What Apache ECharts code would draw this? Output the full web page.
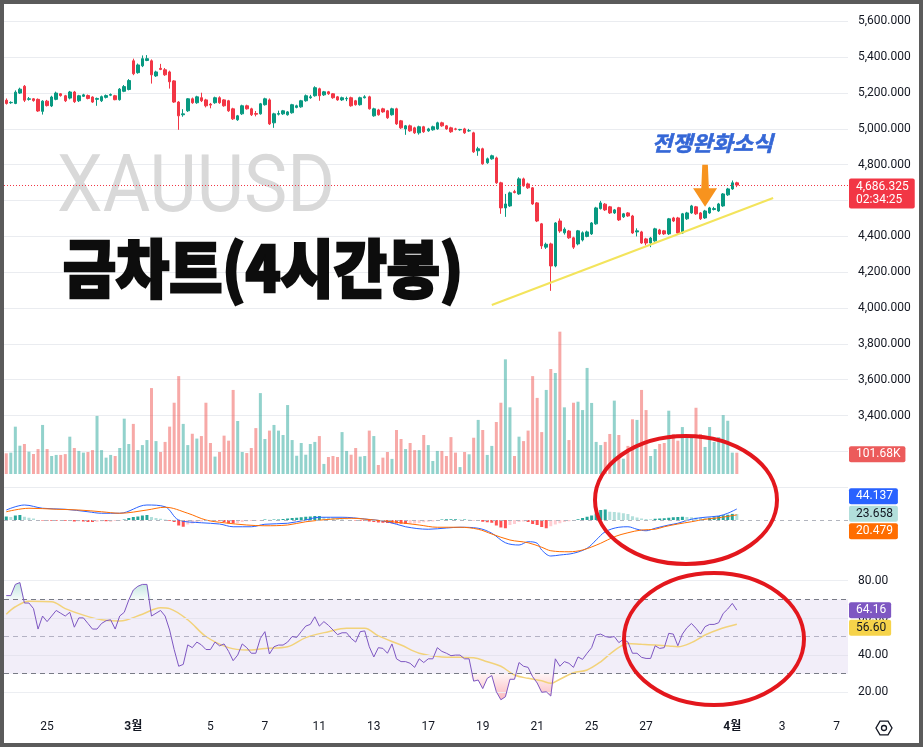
<!DOCTYPE html>
<html><head><meta charset="utf-8">
<script src="https://cdn.jsdelivr.net/npm/echarts@6/dist/echarts.min.js"></script>
<style>html,body{margin:0;padding:0;background:#fff}#c{width:923px;height:748px}</style>
</head><body><div id="c"></div>
<script>
// ---------- DATA ----------
const open = [5160,5146,5142,5200,5238,5165,5168,5165,5098,5155,
 5128,5165,5196,5185,5172,5206,5157,5182,5186,5178,
 5165,5157,5176,5188,5185,5163,5210,5220,5380,5314,
 5352,5382,5380,5296,5338,5330,5318,5268,5150,5079,
 5101,5168,5146,5174,5162,5138,5146,5174,5162,5157,
 5112,5051,5084,5129,5112,5086,5084,5135,5162,5034,
 5082,5084,5079,5090,5120,5123,5157,5174,5185,5224,
 5190,5207,5196,5179,5162,5168,5174,5157,5135,5174,
 5179,5073,5106,5112,5101,5079,5112,5045,5000,5017,
 5006,4978,5012,4989,4995,5000,5034,5017,5006,5000,
 4995,5000,4989,4978,4878,4889,4811,4833,4838,4699,
 4559,4570,4650,4637,4721,4693,4671,4587,4470,4340,
 4358,4235,4486,4420,4430,4392,4358,4380,4400,4414,
 4470,4555,4580,4565,4531,4560,4509,4531,4514,4425,
 4425,4386,4363,4375,4436,4431,4414,4503,4503,4419,
 4498,4531,4565,4531,4503,4531,4550,4542,4570,4632,
 4665,4699];
const close = [5142,5148,5205,5222,5160,5168,5158,5100,5155,5130,
 5178,5200,5186,5157,5206,5152,5185,5190,5170,5150,
 5170,5180,5186,5192,5163,5222,5236,5270,5308,5357,
 5392,5392,5302,5318,5332,5302,5263,5150,5073,5084,
 5168,5146,5179,5157,5129,5133,5174,5146,5129,5101,
 5056,5073,5129,5112,5079,5082,5140,5168,5028,5084,
 5086,5101,5095,5135,5129,5157,5185,5179,5230,5185,
 5207,5196,5174,5162,5174,5170,5129,5135,5174,5179,
 5112,5112,5079,5095,5062,5112,5028,5006,5017,4989,
 4978,5012,4984,5000,5012,5034,5017,5000,4984,4998,
 4997,4978,4990,4872,4889,4805,4833,4850,4699,4559,
 4581,4643,4645,4721,4682,4671,4581,4486,4347,4356,
 4235,4475,4430,4440,4392,4340,4431,4420,4425,4475,
 4559,4587,4548,4531,4548,4492,4526,4514,4419,4431,
 4363,4363,4391,4442,4414,4414,4498,4486,4419,4526,
 4531,4570,4526,4498,4542,4559,4555,4581,4637,4665,
 4699,4686.325];
const high = [5170,5154,5215,5230,5245,5178,5172,5170,5160,5162,
 5185,5208,5200,5190,5212,5212,5190,5196,5192,5182,
 5175,5186,5192,5198,5190,5228,5245,5278,5392,5365,
 5410,5412,5388,5325,5363,5340,5325,5272,5155,5110,
 5172,5175,5185,5202,5168,5145,5180,5182,5166,5162,
 5118,5078,5135,5135,5118,5100,5145,5174,5170,5090,
 5102,5106,5100,5140,5135,5162,5192,5190,5238,5230,
 5212,5212,5200,5184,5180,5180,5180,5162,5180,5188,
 5185,5118,5112,5118,5106,5118,5118,5050,5022,5024,
 5012,5018,5017,5006,5018,5040,5040,5022,5012,5006,
 5000,5006,5000,4984,4900,4895,4840,4856,4845,4705,
 4637,4650,4660,4730,4728,4700,4676,4592,4475,4365,
 4365,4480,4500,4450,4436,4398,4436,4428,4432,4480,
 4565,4598,4586,4570,4553,4565,4531,4536,4520,4445,
 4431,4392,4397,4448,4442,4436,4503,4509,4509,4531,
 4537,4576,4570,4536,4548,4565,4565,4587,4642,4671,
 4712,4705];
const low = [5136,5140,5138,5195,5150,5158,5152,5095,5080,5125,
 5122,5160,5180,5150,5165,5145,5150,5178,5165,5145,
 5129,5150,5170,5183,5160,5158,5205,5215,5300,5308,
 5345,5378,5253,5290,5328,5296,5225,5145,4995,5068,
 5095,5140,5140,5150,5120,5115,5140,5140,5124,5095,
 5050,5045,5078,5108,5072,5070,5080,5130,5022,5006,
 5075,5078,5074,5085,5115,5118,5152,5168,5180,5157,
 5184,5190,5168,5157,5156,5155,5124,5130,5130,5170,
 5108,5068,5074,5090,5056,5074,5022,5000,4967,4984,
 4972,4968,4978,4984,4990,4995,5012,4995,4978,4992,
 4990,4972,4984,4866,4850,4800,4805,4828,4693,4526,
 4509,4565,4640,4632,4677,4665,4576,4480,4330,4330,
 4096,4228,4420,4410,4386,4330,4350,4372,4395,4408,
 4465,4550,4542,4525,4525,4486,4503,4509,4414,4400,
 4358,4350,4340,4370,4408,4408,4408,4480,4414,4414,
 4492,4526,4520,4492,4498,4526,4545,4537,4565,4626,
 4660,4675];
// volume in K
const volume = [98.6,101.8,225.8,135,143,106.5,95.4,119,234,119,
 86,91,91,95,178,124,110,102,105,114,
 277,114,78,91,86,124,264,143,239,114,
 138,162,410,157,105,153,226,340,467,239,
 138,192,169,181,340,148,83,105,183,159,
 401,253,105,100,124,219,386,167,207,234,
 207,186,329,162,87,148,92,143,153,181,
 48,81,86,81,200,110,92,124,83,86,
 207,181,43,78,105,72,210,167,119,148,
 114,114,186,138,62,110,110,86,176,102,
 33,105,94,173,258,210,91,134,248,340,
 547,318,86,178,157,207,467,363,200,401,
 501,482,679,318,162,340,345,305,506,339,
 153,138,153,191,350,186,73,134,261,258,
 401,305,86,119,143,148,302,191,159,224,
 178,175,316,191,129,224,153,176,281,254,
 102,101.68];
const macdHist = [14,12,18,20,13,9,6,-1,-2,-3,
 -3,-3,-2,-3,-4,-6,-5,-6,-8,-8,
 -7,-5,-5,-5,-4,-3,2,8,12,14,
 18,20,12,8,5,2,-3,-8,-22,-27,
 -18,-14,-10,-6,-4,-3,-2,-3,-8,-13,
 -13,-12,-8,-5,-4,-3,-2,2,1,2,
 2,4,6,8,9,11,13,14,16,16,
 12,10,8,6,3,1,0,-2,-3,-4,
 -6,-8,-10,-11,-12,-13,-14,-15,-16,-15,
 -14,-12,-9,-7,-6,-4,2,3,3,3,
 2,2,1,-1,-4,-7,-9,-11,-22,-30,
 -33,-20,-16,-8,-6,-8,-16,-20,-28,-33,
 -25,-18,-13,-8,-5,-2,3,8,13,18,
 26,40,42,33,32,30,27,24,15,10,
 6,4,3,5,6,7,9,11,12,13,
 12,11,10,9,8,9,11,16,19,21,
 24.5,23.658];
const macdLine = [[0,40],[4,60],[8,47],[13,43],[18,33],[21,27],[25,27],[31,60],[35,53],[38,0],[43,-11],[47,-16],[50,-27],[54,-27],[57,-17],[62,-13],[66,0],[69,11],[74,11],[79,4],[84,-7],[88,-27],[93,-37],[97,-32],[100,-29],[104,-33],[107,-53],[110,-91],[113,-100],[115,-87],[117,-93],[118,-120],[120,-144],[122,-140],[125,-133],[128,-113],[130,-80],[132,-47],[135,-29],[137,-27],[139,-37],[141,-43],[143,-33],[146,-20],[148,-13],[151,3],[154,11],[157,16],[159,27],[161,44.137]];
const macdSignal = [[0,33],[5,47],[11,43],[16,40],[21,33],[25,27],[31,40],[35,51],[40,27],[44,0],[48,-11],[53,-20],[57,-23],[62,-20],[66,-7],[72,4],[76,7],[81,0],[85,-7],[91,-20],[95,-29],[100,-29],[104,-37],[107,-56],[111,-80],[115,-91],[118,-109],[120,-123],[124,-127],[127,-120],[131,-93],[134,-67],[137,-51],[140,-40],[143,-37],[145,-27],[148,-16],[151,-7],[154,3],[157,9],[161,20.479]];
const rsi = [72,72,78,79,68,68,65,54,61,58,
 61,64,62.5,61,63,55,60,60,57,54,
 54,57,58.5,59,54,61,63,69.6,75,77,
 78,78,61,62.5,64,61,53.5,43,34,35,
 45.5,44,47,45.5,43,43,47,45,46,42,
 37,40,46,44,41,41,49,52.6,40.6,44.5,
 45.4,45.4,47,50,49.5,52.6,55.6,56.5,60.6,55.6,
 58,56,53.5,51,52,52,49,47,52.6,53,
 44.5,39,44,43.6,41,46,38,36.5,36.5,35.6,
 33.4,38,36,38,38,44,42,41,39.7,40,
 40,38,38,26,26.6,22,27.5,29,20.3,16,
 17.6,27,27,36,34,33.4,28.4,25,20,20.3,
 18,38,34,36.5,35.6,33.4,39,37.7,41,44,
 50.8,51.3,50,49.5,50,46.7,48.5,47,41,41,
 38.8,38.2,38.2,45,43.6,44,51.7,51.3,45,51.3,
 54.7,57,54.4,51.3,55.3,56.5,56.5,57.4,62.4,64.8,
 67.8,64.16];
const rsiMA = [[0,62],[2,66],[5,69],[10,68.7],[13,65],[17,61.5],[21,59],[25,58.3],[30,62],[34,65.5],[36,65],[40,59],[44,50],[49,44],[53,42.7],[57,43.6],[62,44.5],[66,49.4],[71,52.6],[75,54.4],[79,54.4],[82,50.3],[87,45.4],[91,41],[96,39],[100,38.8],[103,38.6],[106,36.4],[109,34],[112,29.3],[115,27.5],[118,26.2],[120,24.8],[122,27],[125,30.5],[128,32],[131,36.4],[134,42.4],[137,46.3],[140,45.8],[143,45.4],[146,44.9],[148,44.5],[151,46.7],[154,50.8],[157,53.8],[161,56.6]];
const xTickIndex = [9,28,45,57,69,81,93,105,117,129,141,160,171,183];
const xTickText = ['25','3월','5','7','11','13','17','19','21','25','27','4월','3','7'];
const countdown = '02:34:25';
const watermarkText = 'XAUUSD';
const titleText = '금차트(4시간봉)';
const noteText = '전쟁완화소식';
const trendLine = [[107, 4017], [169, 4614]];
const arrowTip = [154, 4566];

// ---------- CHART ----------
const N = 186;
const cats = Array.from({length: N}, (_, i) => String(i));
const tickMap = new Map(xTickIndex.map((k, i) => [k, xTickText[i]]));
const FONT = 'Roboto, "Noto Sans CJK KR", sans-serif';
const UP = '#089981', DOWN = '#f23645';
const fmt = (v, d) => v.toLocaleString('en-US', {minimumFractionDigits: d, maximumFractionDigits: d});

const candles = open.map((o, i) => [o, close[i], low[i], high[i]]);
const volData = volume.map((v, i) => ({value: v, itemStyle: {color: close[i] >= open[i] ? 'rgba(38,166,154,0.5)' : 'rgba(239,83,80,0.5)'}}));
const histData = macdHist.map((v, i) => {
  const p = i > 0 ? macdHist[i - 1] : 0;
  let c;
  if (v >= 0) c = v >= p ? '#26a69a' : '#b2dfdb';
  else c = v <= p ? '#ff5252' : '#ffcdd2';
  return {value: v, itemStyle: {color: c}};
});

const gridBase = {left: 4, right: 75};
const xa = (g, lab) => ({
  type: 'category', gridIndex: g, data: cats, boundaryGap: true,
  axisLine: {show: false}, axisTick: {show: false}, splitLine: {show: false},
  axisLabel: lab ? {
    show: true, interval: (i) => tickMap.has(i), margin: 10,
    formatter: (v, i) => { const t = tickMap.get(i) || ''; return t.includes('월') ? '{m|' + t + '}' : t; },
    color: '#131722', fontSize: 12, fontFamily: FONT,
    rich: {m: {fontWeight: 'bold', fontSize: 12, color: '#131722', fontFamily: FONT}}
  } : {show: false}
});

const chart = echarts.init(document.getElementById('c'), null, {renderer: 'canvas', width: 923, height: 748});
const option = {
  animation: false,
  backgroundColor: '#ffffff',
  textStyle: {fontFamily: FONT},
  grid: [
    Object.assign({top: 3.5, height: 483.7}, gridBase),
    Object.assign({top: 330, height: 144}, gridBase),
    Object.assign({top: 488, height: 80}, gridBase),
    Object.assign({top: 562.1, height: 148.8}, gridBase)
  ],
  xAxis: [xa(0, false), xa(1, false), xa(2, false), xa(3, true)],
  yAxis: [
    {type: 'value', gridIndex: 0, position: 'right', min: 3000, max: 5700, interval: 200,
      axisLine: {show: false}, axisTick: {show: false},
      splitLine: {show: true, lineStyle: {color: '#eaecf0', width: 1}},
      axisLabel: {margin: 10, fontSize: 12, color: '#131722', fontFamily: FONT,
        formatter: (v) => (v >= 3400 && v % 200 === 0) ? fmt(v, 3) : ''}},
    {type: 'value', gridIndex: 1, min: 0, max: 687, show: false},
    {type: 'value', gridIndex: 2, min: -192, max: 128, show: false},
    {type: 'value', gridIndex: 3, position: 'right', min: 10, max: 90, interval: 10,
      axisLine: {show: false}, axisTick: {show: false}, splitLine: {show: false},
      axisLabel: {margin: 10, fontSize: 12, color: '#131722', fontFamily: FONT,
        formatter: (v) => (v % 20 === 0 && v >= 20 && v <= 80) ? v.toFixed(2) : ''}}
  ],
  series: [
    {type: 'candlestick', xAxisIndex: 0, yAxisIndex: 0, data: candles, barWidth: 3,
      itemStyle: {color: UP, color0: DOWN, borderColor: UP, borderColor0: DOWN, borderWidth: 1},
      markLine: {symbol: ['none', 'none'], silent: true, label: {show: false},
        lineStyle: {color: DOWN, type: [1, 2], width: 1},
        data: [{yAxis: close[close.length - 1]}]}},
    {type: 'bar', xAxisIndex: 1, yAxisIndex: 1, data: volData, barWidth: 3},
    {type: 'bar', xAxisIndex: 2, yAxisIndex: 2, data: histData, barWidth: 3,
      markLine: {symbol: ['none', 'none'], silent: true, label: {show: false},
        lineStyle: {color: '#b2b5be', type: [4, 4], width: 1}, data: [{yAxis: 0}]}},
    {type: 'line', xAxisIndex: 2, yAxisIndex: 2, data: macdLine, symbol: 'none', smooth: 0.35,
      lineStyle: {color: '#2962ff', width: 1}, z: 4},
    {type: 'line', xAxisIndex: 2, yAxisIndex: 2, data: macdSignal, symbol: 'none', smooth: 0.35,
      lineStyle: {color: '#ff6d00', width: 1}, z: 4},
    // RSI fills (display helpers from rsi values)
    {type: 'line', xAxisIndex: 3, yAxisIndex: 3, stack: 'lo', symbol: 'none', lineStyle: {opacity: 0},
      data: rsi.map(v => Math.min(v, 30))},
    {type: 'line', xAxisIndex: 3, yAxisIndex: 3, stack: 'lo', symbol: 'none', lineStyle: {opacity: 0},
      areaStyle: {color: new echarts.graphic.LinearGradient(0, 0, 0, 1, [{offset: 0, color: 'rgba(242,54,69,0.05)'}, {offset: 1, color: 'rgba(242,54,69,0.35)'}]), opacity: 1},
      data: rsi.map(v => 30 - Math.min(v, 30))},
    {type: 'line', xAxisIndex: 3, yAxisIndex: 3, stack: 'hi', symbol: 'none', lineStyle: {opacity: 0},
      data: rsi.map(() => 70)},
    {type: 'line', xAxisIndex: 3, yAxisIndex: 3, stack: 'hi', symbol: 'none', lineStyle: {opacity: 0},
      areaStyle: {color: new echarts.graphic.LinearGradient(0, 0, 0, 1, [{offset: 0, color: 'rgba(8,153,129,0.25)'}, {offset: 1, color: 'rgba(8,153,129,0.04)'}]), opacity: 1},
      data: rsi.map(v => Math.max(v, 70) - 70)},
    {type: 'line', xAxisIndex: 3, yAxisIndex: 3, data: rsi, symbol: 'none',
      lineStyle: {color: '#7e57c2', width: 1}, z: 5,
      markArea: {silent: true, itemStyle: {color: 'rgba(126,87,194,0.1)'}, data: [[{yAxis: 30}, {yAxis: 70}]]},
      markLine: {symbol: ['none', 'none'], silent: true, label: {show: false},
        data: [
          {yAxis: 20, lineStyle: {color: '#eceef2', type: 'solid', width: 1}},
          {yAxis: 40, lineStyle: {color: '#e6e4ef', type: 'solid', width: 1}},
          {yAxis: 60, lineStyle: {color: '#e6e4ef', type: 'solid', width: 1}},
          {yAxis: 80, lineStyle: {color: '#eceef2', type: 'solid', width: 1}},
          {yAxis: 30, lineStyle: {color: '#787b86', type: [5, 4], width: 1}},
          {yAxis: 70, lineStyle: {color: '#787b86', type: [5, 4], width: 1}},
          {yAxis: 50, lineStyle: {color: '#b4b2c4', type: [5, 4], width: 1}}
        ]}},
    {type: 'line', xAxisIndex: 3, yAxisIndex: 3, data: rsiMA, symbol: 'none', smooth: 0.35,
      lineStyle: {color: '#f2d27a', width: 1.5}, z: 4}
  ]
};
chart.setOption(option);

// ---------- ANNOTATIONS / TAGS ----------
const P = (g, x, y) => chart.convertToPixel({gridIndex: g}, [x, y]);
const L = close.length - 1;
const ctx = document.createElement('canvas').getContext('2d');
const measure = (font, t) => { ctx.font = font; return ctx.measureText(t).width; };

const tagFont = '12px ' + FONT;
function tag(yCenter, text, bg, fg) {
  return {type: 'text', x: 849, y: yCenter - 8, z: 150,
    style: {text, font: tagFont, fill: fg, backgroundColor: bg, padding: [2, 5, 2, 7], lineHeight: 12,
      verticalAlign: 'top', align: 'left', borderRadius: 2}};
}
function spread(ys, h) {
  const idx = ys.map((y, i) => i).sort((a, b) => ys[a] - ys[b]);
  const out = ys.slice();
  for (let k = 1; k < idx.length; k++) {
    const a = idx[k - 1], b = idx[k];
    if (out[b] < out[a] + h) out[b] = out[a] + h;
  }
  return out;
}
const g = [];
// border
g.push({type: 'rect', z: 300, shape: {x: 2, y: 2, width: 919, height: 743}, style: {fill: 'none', stroke: '#5b5b5b', lineWidth: 4}});
// watermark
const wmFont = '80px Roboto';
g.push({type: 'text', z: 1, x: 57, y: 191, scaleX: 278 / measure(wmFont, watermarkText),
  style: {text: watermarkText, font: wmFont, fill: '#d9d9d9', verticalAlign: 'middle', align: 'left'}});
// title (heavy weight: bold + same-colour stroke)
const tFont = '900 63px "Noto Sans CJK KR"';
g.push({type: 'text', z: 120, x: 63, y: 268, scaleX: 400 / measure(tFont, titleText),
  style: {text: titleText, font: tFont, fill: '#0d0d0d', stroke: '#0d0d0d', lineWidth: 2.6, lineJoin: 'round', verticalAlign: 'middle', align: 'left'}});
// note
const nFont = 'italic bold 21px "Noto Sans CJK KR"';
g.push({type: 'text', z: 120, x: 652, y: 143, scaleX: 121 / measure(nFont, noteText),
  style: {text: noteText, font: nFont, fill: '#3567d6', stroke: '#3567d6', lineWidth: 0.6, verticalAlign: 'middle', align: 'left'}});
// trend line
const t0 = P(0, trendLine[0][0], trendLine[0][1]), t1 = P(0, trendLine[1][0], trendLine[1][1]);
g.push({type: 'line', z: 110, shape: {x1: t0[0], y1: t0[1], x2: t1[0], y2: t1[1]}, style: {stroke: '#f3e45c', lineWidth: 2}});
// arrow
const at = P(0, arrowTip[0], arrowTip[1]);
const ax = at[0], ay = at[1];
g.push({type: 'polygon', z: 120, shape: {points: [[ax - 2.8, ay - 42], [ax + 2.8, ay - 42], [ax + 3.8, ay - 18.5], [ax + 12, ay - 18.5], [ax, ay], [ax - 12, ay - 18.5], [ax - 3.8, ay - 18.5]]},
  style: {fill: '#f7931e'}});
// ellipses
g.push({type: 'ellipse', z: 200, shape: {cx: 686, cy: 500, rx: 91, ry: 64}, style: {fill: 'none', stroke: '#e3171d', lineWidth: 4}});
g.push({type: 'ellipse', z: 200, shape: {cx: 714, cy: 639, rx: 90, ry: 66}, style: {fill: 'none', stroke: '#e3171d', lineWidth: 4}});
// price tag
const py = P(0, L, close[L])[1];
g.push({type: 'text', x: 849, y: py - 6.5, z: 150,
  style: {text: fmt(close[L], 3) + '\n' + countdown, font: tagFont, fill: '#ffffff', backgroundColor: DOWN,
    padding: [1.5, 6, 1.5, 7], lineHeight: 13.5, verticalAlign: 'top', align: 'left', borderRadius: 2}});
// volume tag
const vy = P(1, L, volume[L])[1];
g.push(tag(vy + 1.5, volume[L].toFixed(2) + 'K', '#ec5b5b', '#ffffff'));
// MACD tags (stacked, centred on their values)
const mVals = [macdLine[macdLine.length - 1][1], macdHist[L], macdSignal[macdSignal.length - 1][1]];
const mY = mVals.map(v => P(2, L, v)[1]);
let mS = spread(mY, 17.5);
const shift = mY.reduce((a, b) => a + b, 0) / 3 - mS.reduce((a, b) => a + b, 0) / 3;
mS = mS.map(y => y + shift + 1);
g.push(tag(mS[0], fmt(mVals[0], 3), '#2962ff', '#ffffff'));
g.push(tag(mS[1], fmt(mVals[1], 3), '#b2dfdb', '#131722'));
g.push(tag(mS[2], fmt(mVals[2], 3), '#ff6d00', '#ffffff'));
// RSI tags
const rVals = [rsi[L], rsiMA[rsiMA.length - 1][1]];
const rS = spread(rVals.map(v => P(3, L, v)[1]), 17.5);
g.push(tag(rS[0], rVals[0].toFixed(2), '#7e57c2', '#ffffff'));
g.push(tag(rS[1], rVals[1].toFixed(2), '#f6d34a', '#131722'));
// settings icon
const cx = 884, cy = 728, r = 8;
const hex = [0, 1, 2, 3, 4, 5].map(k => [cx + r * Math.cos(k * Math.PI / 3), cy + r * Math.sin(k * Math.PI / 3)]);
g.push({type: 'polygon', z: 150, shape: {points: hex}, style: {fill: 'none', stroke: '#131722', lineWidth: 1.3}});
g.push({type: 'circle', z: 150, shape: {cx, cy, r: 2.5}, style: {fill: 'none', stroke: '#131722', lineWidth: 1.3}});

chart.setOption({graphic: g});
</script>
</body></html>
